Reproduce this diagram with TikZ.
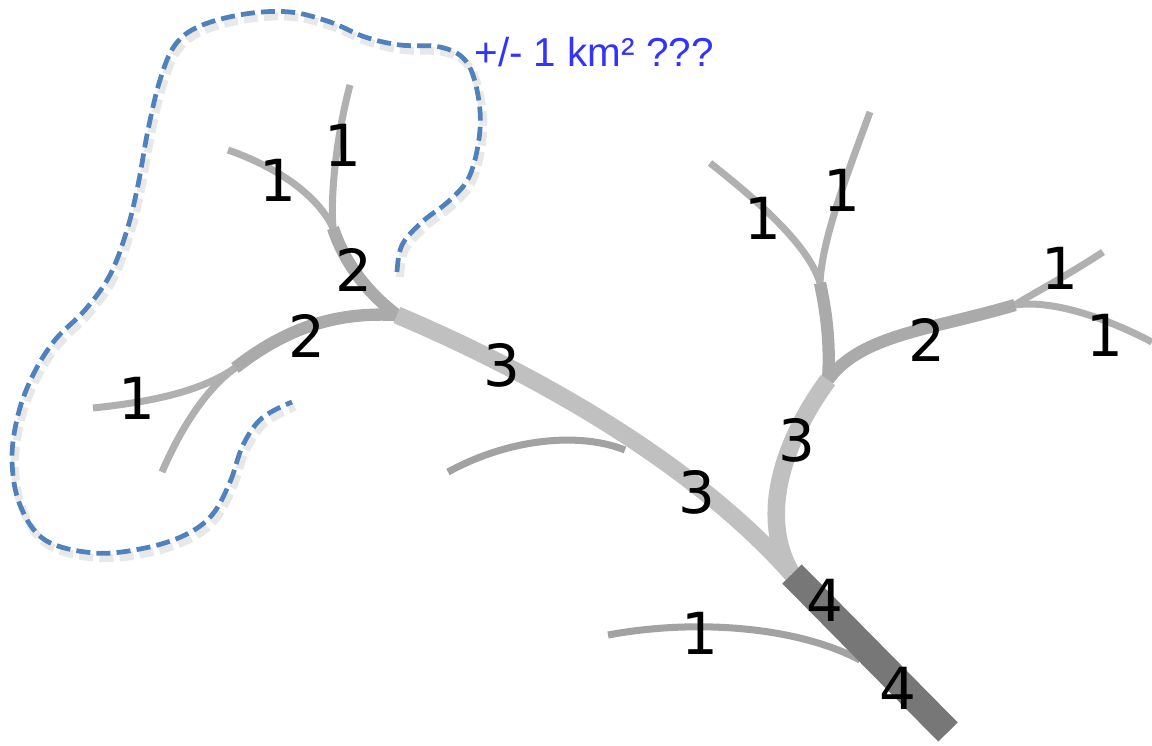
\documentclass[tikz,border=0pt]{standalone}
\usepackage{fontspec}
\setmainfont{DejaVu Sans}
\newfontfamily\notefont{Liberation Sans}
\definecolor{ordone}{HTML}{B0B0B0}
\definecolor{ordside}{HTML}{A2A2A2}
\definecolor{ordtwo}{HTML}{AAAAAA}
\definecolor{ordthree}{HTML}{C0C0C0}
\definecolor{ordfour}{HTML}{777777}
\definecolor{basinblue}{HTML}{4F81BD}
\definecolor{noteblue}{HTML}{3333FF}
\tikzset{
  sone/.style={draw=ordone, line width=4pt},
  sside/.style={draw=ordside, line width=4pt},
  stwo/.style={draw=ordtwo, line width=7pt},
  sthree/.style={draw=ordthree, line width=10pt},
  sfour/.style={draw=ordfour, line width=15.5pt},
  num/.style={font=\fontsize{33}{33}\selectfont, inner sep=0pt},
  basin/.style={draw=basinblue, line width=2.7pt, dash pattern=on 8pt off 3.5pt},
  basinshade/.style={draw=black!30, line width=4.5pt, dash pattern=on 8pt off 3.5pt, opacity=0.3}
}
\begin{document}
\begin{tikzpicture}[x=0.02cm,y=-0.02cm]
\useasboundingbox (0,0) rectangle (1152,746);

% junctions
\coordinate (jA) at (333,228);
\coordinate (jB) at (235,368);
\coordinate (jC) at (397,315);
\coordinate (jD) at (820,283);
\coordinate (jE) at (1015,305);
\coordinate (jF) at (828,380);
\coordinate (jG) at (792,574);
\coordinate (outlet) at (948,732);

% sources
\coordinate (s1) at (228,150);
\coordinate (s2) at (350,85);
\coordinate (s3) at (93,408);
\coordinate (s4) at (162,472);
\coordinate (s5) at (710,163);
\coordinate (s6) at (870,112);
\coordinate (s7) at (1103,252);
\coordinate (s8) at (1152,342);
\coordinate (s9) at (448,472);
\coordinate (s10) at (608,635);
\coordinate (m1) at (625,450);
\coordinate (m2) at (860,660);

% catchment outline
\def\basinpath{plot[smooth, tension=0.6] coordinates {(397,272) (402,245) (422,222) (450,200) (470,175) (480,130) (477,90) (465,60) (440,47) (400,45) (365,37) (330,22) (290,12) (245,14) (200,26) (175,45) (160,80) (148,130) (138,185) (127,230) (110,275) (85,310) (55,340) (33,375) (18,415) (12,460) (20,505) (45,540) (95,553) (145,548) (185,535) (212,515) (230,482) (243,445) (262,418) (292,402)}}
\begin{scope}[shift={(3,5)}]
\draw[basinshade] \basinpath;
\end{scope}
\draw[basin] \basinpath;

% order 1
\draw[sone] (s1) .. controls (285,170) and (320,200) .. (jA);
\draw[sone] (s2) .. controls (338,130) and (330,190) .. (jA);
\draw[sone] (s3) .. controls (150,402) and (200,392) .. (jB);
\draw[sone] (s4) .. controls (180,430) and (205,390) .. (jB);
\draw[sone] (s5) .. controls (770,210) and (810,250) .. (jD);
\draw[sone] (s6) .. controls (845,180) and (822,240) .. (jD);
\draw[sone] (s7) .. controls (1060,280) and (1030,295) .. (jE);
\draw[sone] (s8) .. controls (1100,315) and (1050,300) .. (jE);
\draw[sside] (s9) .. controls (510,438) and (580,432) .. (m1);
\draw[sside] (s10) .. controls (700,618) and (800,628) .. (m2);

% order 2
\draw[stwo] (jA) .. controls (345,265) and (370,295) .. (jC);
\draw[stwo] (jB) .. controls (290,325) and (340,312) .. (jC);
\draw[stwo] (jD) .. controls (828,320) and (830,350) .. (jF);
\draw[stwo] (jE) .. controls (930,330) and (860,335) .. (jF);

% order 3
\draw[sthree] (jC) .. controls (550,380) and (700,470) .. (jG);
\draw[sthree] (jF) .. controls (770,460) and (765,530) .. (jG);

% order 4
\draw[sfour] (jG) -- (outlet);

% labels
\node[num] (n1) at (278,180) {1};
\node[num] (n2) at (343,145) {1};
\node[num] (n3) at (354,270) {2};
\node[num] (n4) at (307,336) {2};
\node[num] (n5) at (137,398) {1};
\node[num] (n6) at (502,365) {3};
\node[num] (n7) at (697,492) {3};
\node[num] (n8) at (763,218) {1};
\node[num] (n9) at (842,190) {1};
\node[num] (n10) at (1060,268) {1};
\node[num] (n11) at (1105,335) {1};
\node[num] (n12) at (927,340) {2};
\node[num] (n13) at (797,440) {3};
\node[num] (n14) at (825,600) {4};
\node[num] (n15) at (898,688) {4};
\node[num] (n16) at (700,633) {1};
\node[font=\notefont\fontsize{23}{23}\selectfont, text=noteblue, inner sep=0pt] (area) at (594,52) {+/- 1 km² ???};
\end{tikzpicture}
\end{document}
